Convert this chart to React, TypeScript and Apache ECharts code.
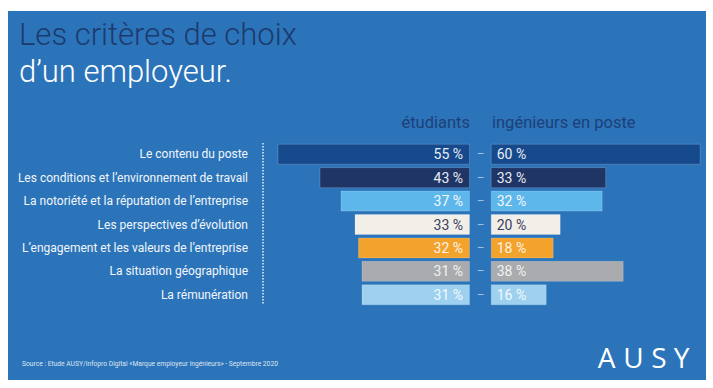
import React, { useEffect, useRef } from "react";
import * as echarts from "echarts";

const criteres = [
  "Le contenu du poste",
  "Les conditions et l\u2019environnement de travail",
  "La notori\u00e9t\u00e9 et la r\u00e9putation de l\u2019entreprise",
  "Les perspectives d\u2019\u00e9volution",
  "L\u2019engagement et les valeurs de l\u2019entreprise",
  "La situation g\u00e9ographique",
  "La r\u00e9mun\u00e9ration",
];
const etudiants = [55, 43, 37, 33, 32, 31, 31];
const ingenieurs = [60, 33, 32, 20, 18, 38, 16];
const barColors = ["#174a8c", "#1f3566", "#5db7ea", "#f2efe8", "#f3a22c", "#a9abae", "#9dd1ef"];
const textColors = ["#e8edf5", "#e8edf5", "#f4f8fc", "#3a4060", "#fbf3e6", "#f2f2f2", "#f4f9fd"];

const FONT = "Roboto, 'Noto Sans', sans-serif";

export default function App() {
  const ref = useRef<HTMLDivElement>(null);
  useEffect(() => {
    document.body.style.margin = "0";
    const chart = echarts.init(ref.current!, null, { renderer: "svg" });
    const mk = (vals: number[]) =>
      vals.map((v, i) => ({
        value: v,
        itemStyle: { color: barColors[i] },
        label: { color: textColors[i] },
      }));
    const gridTop = 142.5;
    const gridH = 164;
    chart.setOption({
      animation: false,
      backgroundColor: "#ffffff",
      grid: [
        { left: 260, width: 210, top: gridTop, height: gridH },
        { left: 490.7, width: 210, top: gridTop, height: gridH },
      ],
      xAxis: [
        { gridIndex: 0, type: "value", min: 0, max: 60, inverse: true, show: false },
        { gridIndex: 1, type: "value", min: 0, max: 60, show: false },
      ],
      yAxis: [
        {
          gridIndex: 0,
          type: "category",
          data: criteres,
          inverse: true,
          position: "left",
          axisLine: { show: false, onZero: false },
          axisTick: { show: false },
          axisLabel: { margin: 12, color: "#f2f6fb", fontSize: 12, fontFamily: FONT },
        },
        {
          gridIndex: 1,
          type: "category",
          data: criteres,
          inverse: true,
          position: "left",
          axisLine: { show: false, onZero: false },
          axisTick: { show: false },
          axisLabel: {
            margin: 10,
            align: "center",
            formatter: () => "\u2013",
            color: "rgba(200,220,240,0.75)",
            fontSize: 12,
            fontFamily: FONT,
          },
        },
      ],
      series: [
        {
          name: "\u00e9tudiants",
          type: "bar",
          xAxisIndex: 0,
          yAxisIndex: 0,
          barWidth: 21,
          data: mk(etudiants),
          itemStyle: { borderColor: "rgba(255,255,255,0.18)", borderWidth: 1 },
          label: {
            show: true,
            position: "insideRight",
            distance: 7,
            formatter: "{c} %",
            fontSize: 14,
            fontFamily: FONT,
          },
        },
        {
          name: "ing\u00e9nieurs en poste",
          type: "bar",
          xAxisIndex: 1,
          yAxisIndex: 1,
          barWidth: 21,
          data: mk(ingenieurs),
          itemStyle: { borderColor: "rgba(255,255,255,0.18)", borderWidth: 1 },
          label: {
            show: true,
            position: "insideLeft",
            distance: 6,
            formatter: "{c} %",
            fontSize: 14,
            fontFamily: FONT,
          },
        },
      ],
      graphic: [
        {
          type: "rect",
          z: -10,
          silent: true,
          shape: { x: 8, y: 11, width: 698, height: 369 },
          style: { fill: "#2b74b9" },
        },
        {
          type: "text",
          x: 19,
          y: 34.5,
          style: {
            text: "Les crit\u00e8res de choix",
            fill: "#1d3a6e",
            fontSize: 31,
            fontWeight: 300,
            fontFamily: FONT,
            verticalAlign: "middle",
          },
        },
        {
          type: "text",
          x: 19,
          y: 71,
          style: {
            text: "d\u2019un employeur.",
            fill: "#ffffff",
            fontSize: 31,
            fontWeight: 300,
            fontFamily: FONT,
            verticalAlign: "middle",
          },
        },
        {
          type: "text",
          x: 470,
          y: 122.5,
          style: {
            text: "\u00e9tudiants",
            fill: "#1e3f78",
            fontSize: 16.5,
            fontFamily: FONT,
            align: "right",
            verticalAlign: "middle",
          },
        },
        {
          type: "text",
          x: 492,
          y: 122.5,
          style: {
            text: "ing\u00e9nieurs en poste",
            fill: "#1e3f78",
            fontSize: 16.5,
            fontFamily: FONT,
            align: "left",
            verticalAlign: "middle",
          },
        },
        {
          type: "line",
          shape: { x1: 263, y1: 143, x2: 263, y2: 305 },
          style: { stroke: "#e8f0f8", lineWidth: 1.5, lineDash: [1.5, 1.5] },
        },
        {
          type: "text",
          x: 22,
          y: 364,
          style: {
            text: "Source : Etude AUSY/Infopro Digital \u00abMarque employeur ing\u00e9nieurs\u00bb - Septembre 2020",
            fill: "rgba(240,245,250,0.9)",
            fontSize: 6.7,
            fontFamily: FONT,
            verticalAlign: "middle",
          },
        },
        ...["A", "U", "S", "Y"].map((ch, i) => ({
          type: "text",
          x: [606.5, 633.5, 659, 681.5][i],
          y: 357,
          style: {
            text: ch,
            fill: "#ffffff",
            fontSize: 28,
            fontFamily: "'Open Sans', sans-serif",
            fontWeight: 400,
            align: "center",
            verticalAlign: "middle",
          },
        })),
      ],
    });
    return () => chart.dispose();
  }, []);
  return (
    <div
      ref={ref}
      style={{ position: "fixed", left: 0, top: 0, width: 713, height: 388 }}
    />
  );
}
